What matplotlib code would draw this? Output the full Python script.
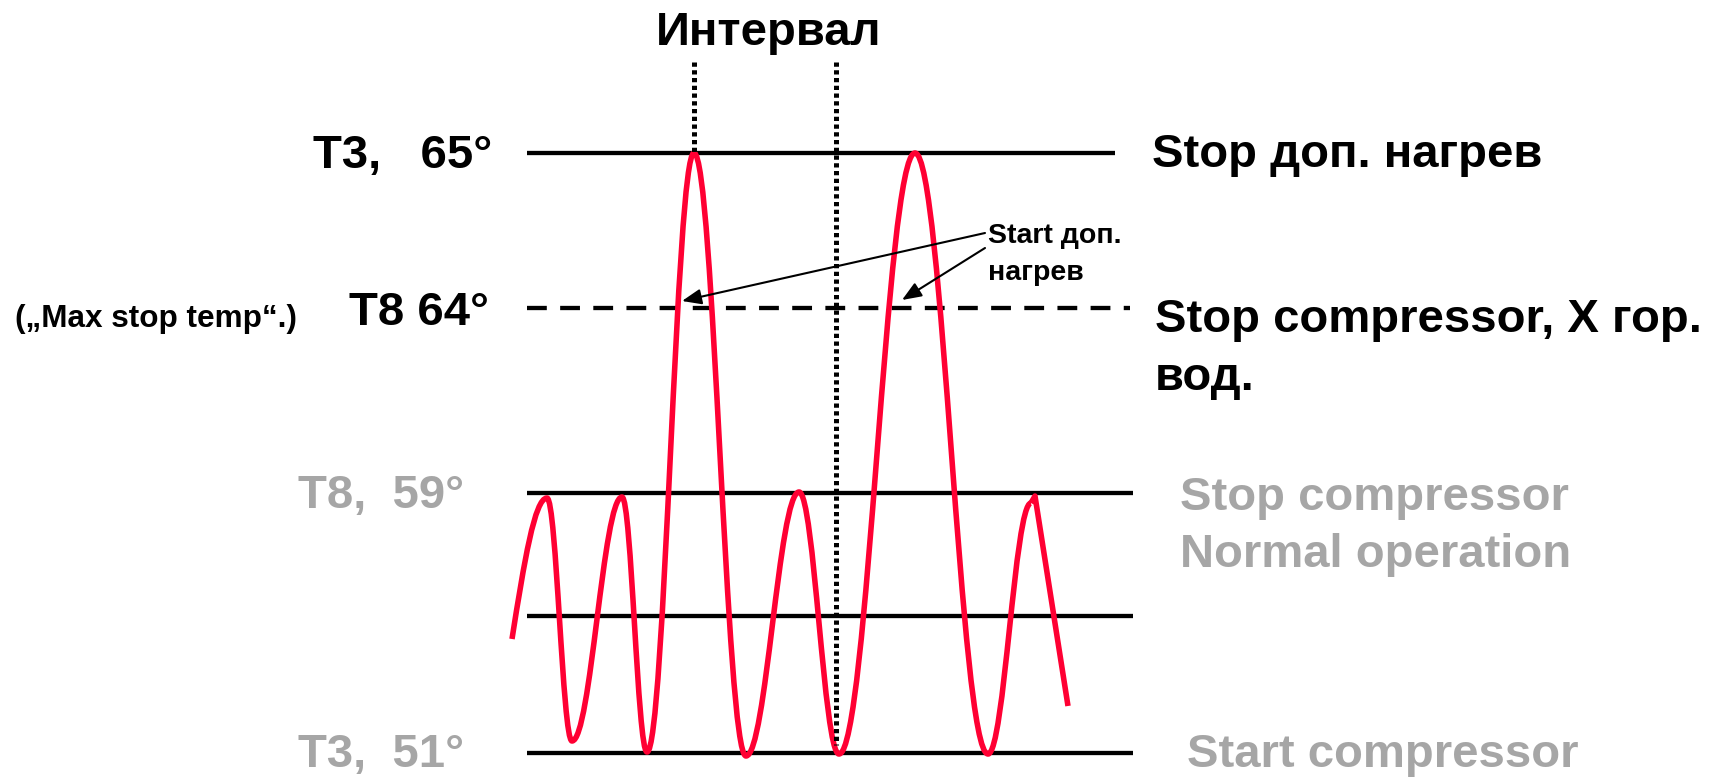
import matplotlib
matplotlib.use("Agg")
import matplotlib.pyplot as plt
from matplotlib.path import Path
from matplotlib.patches import PathPatch

# ---------------- data (diagram units: x to the right, y downwards) ----------------
# horizontal threshold levels: y position, x start, x end, style
level_y = [153, 308, 493, 616, 753]
level_x0 = [527, 527, 527, 527, 527]
level_x1 = [1115, 1130, 1133, 1133, 1133]
level_dashed = [False, True, False, False, False]

# "Интервал" markers (vertical dotted lines)
interval_x = [694, 836]
interval_y0 = [62, 62]
interval_y1 = [153, 745]

# temperature curve: start point, then alternating extrema
curve_x = [512, 547, 572, 622, 647, 694, 746, 799, 839, 915, 988, 1031]
curve_y = [639, 498, 741, 497, 752, 153, 756, 492, 754, 153, 754, 503]
# final kinked stroke after the last peak
tail_x = [1031, 1035, 1068]
tail_y = [503, 496, 706]

# left labels
left_labels = ["T3,   65°", "T8 64°", "T8,  59°", "T3,  51°"]
left_label_x = [313, 349, 298, 298]
left_label_y = [168, 325, 508, 767]
left_label_color = ["black", "black", "#a6a6a6", "#a6a6a6"]

# right labels (one entry per text line)
right_labels = ["Stop доп. нагрев", "Stop compressor, X гор.", "вод.",
                "Stop compressor", "Normal operation", "Start compressor"]
right_label_x = [1152, 1155, 1155, 1180, 1180, 1187]
right_label_y = [167, 332, 390, 510, 567, 767]
right_label_color = ["black", "black", "black", "#a6a6a6", "#a6a6a6", "#a6a6a6"]

note_lines = ["Start доп.", "нагрев"]
note_x = 988
note_y = [243, 280]
arrow_from = [(985, 233), (985, 248)]
arrow_to = [(682, 301), (902, 300)]

RED = "#ff0033"
FONT = "Liberation Sans"

fig = plt.figure(figsize=(17.3, 7.77), dpi=100)
ax = fig.add_axes([0, 0, 1, 1])
ax.set_xlim(0, 1730)
ax.set_ylim(777, 0)
ax.axis("off")

LW = 3.1
# levels
for y, x0, x1, d in zip(level_y, level_x0, level_x1, level_dashed):
    if d:
        ax.plot([x0, x1], [y, y], color="black", lw=LW,
                linestyle=(0, (4.6, 3.1)), solid_capstyle="butt",
                dash_capstyle="butt", zorder=1)
    else:
        ax.plot([x0, x1], [y, y], color="black", lw=LW,
                solid_capstyle="butt", zorder=1)

# curve as smooth bezier through extrema (horizontal tangents at extrema)
k = 0.38
verts = [(curve_x[0], curve_y[0])]
codes = [Path.MOVETO]
x0, y0 = curve_x[0], curve_y[0]
x1, y1 = curve_x[1], curve_y[1]
dx = x1 - x0
verts += [(x0 + 0.35 * dx, y0 + 0.55 * (y1 - y0)), (x1 - 0.35 * dx, y1), (x1, y1)]
codes += [Path.CURVE4] * 3
for i in range(1, len(curve_x) - 1):
    x0, y0 = curve_x[i], curve_y[i]
    x1, y1 = curve_x[i + 1], curve_y[i + 1]
    dx = x1 - x0
    verts += [(x0 + k * dx, y0), (x1 - k * dx, y1), (x1, y1)]
    codes += [Path.CURVE4] * 3
patch = PathPatch(Path(verts, codes), facecolor="none", edgecolor=RED,
                  lw=4.0, capstyle="butt", joinstyle="round", zorder=2)
ax.add_patch(patch)
ax.plot(tail_x, tail_y, color=RED, lw=4.0, solid_capstyle="butt",
        solid_joinstyle="round", zorder=2)

# interval dotted lines
for x, ya, yb in zip(interval_x, interval_y0, interval_y1):
    ax.plot([x, x], [ya, yb], color="black", lw=3.6,
            linestyle=(0, (0.85, 0.7)), dash_capstyle="butt", zorder=3)

ax.text(769, 45, "Интервал", fontsize=34, fontweight="bold", family=FONT,
        ha="center", va="baseline", color="black")

for t, x, y, c in zip(left_labels, left_label_x, left_label_y, left_label_color):
    ax.text(x, y, t, fontsize=34, fontweight="bold", family=FONT,
            ha="left", va="baseline", color=c)

ax.text(15, 327, "(„Max stop temp“.)", fontsize=22.7, fontweight="bold",
        family=FONT, ha="left", va="baseline", color="black")

for t, x, y, c in zip(right_labels, right_label_x, right_label_y, right_label_color):
    ax.text(x, y, t, fontsize=34, fontweight="bold", family=FONT,
            ha="left", va="baseline", color=c)

for t, y in zip(note_lines, note_y):
    ax.text(note_x, y, t, fontsize=20.5, fontweight="bold", family=FONT,
            ha="left", va="baseline", color="black")

for (xa, ya), (xb, yb) in zip(arrow_from, arrow_to):
    ax.annotate("", xy=(xb, yb), xytext=(xa, ya),
                arrowprops=dict(arrowstyle="-|>,head_length=0.45,head_width=0.18",
                                mutation_scale=26, lw=1.5, color="black",
                                shrinkA=0, shrinkB=0), zorder=4)

fig.savefig("out.png", dpi=100, facecolor="white")
